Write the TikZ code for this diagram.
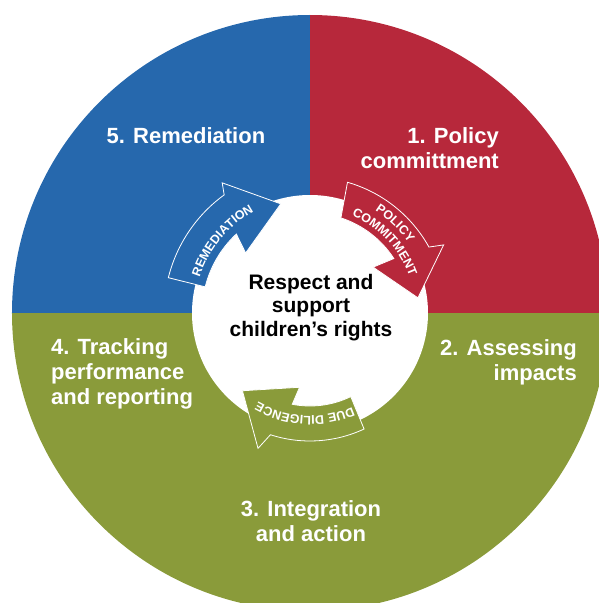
\documentclass[tikz,border=0pt]{standalone}
\usepackage{fontspec}
\setmainfont{Liberation Sans}
\definecolor{RingBlue}{RGB}{38,104,173}
\definecolor{RingRed}{RGB}{183,40,59}
\definecolor{RingGreen}{RGB}{138,155,58}
\usetikzlibrary{decorations.text}

\begin{document}
\begin{tikzpicture}[
    x=1pt, y=1pt,
    stage/.style={text=white, inner sep=0pt, font=\fontsize{22}{25}\selectfont\bfseries},
    arw/.style={fill=#1, draw=white, line width=0.8pt, line join=miter},
    arwtext/.style={decorate, decoration={text along path, text align=center, text color=white,
        text={|\fontsize{12.5}{12.5}\selectfont\bfseries|#1}}}
]
    \useasboundingbox (-310,-290) rectangle (288,313);

    % the three sectors of the ring
    \fill[RingRed]   (0,0) -- (0:298pt)   arc[start angle=0,   end angle=90,  radius=298pt] -- cycle;
    \fill[RingBlue]  (0,0) -- (90:298pt)  arc[start angle=90,  end angle=180, radius=298pt] -- cycle;
    \fill[RingGreen] (0,0) -- (180:298pt) arc[start angle=180, end angle=360, radius=298pt] -- cycle;
    \fill[white] (0,0) circle[radius=118pt];

    % curved arrows, all running clockwise
    \draw[arw=RingBlue] (166:146pt) arc[start angle=166, end angle=126, radius=146pt]
        -- (124:157pt) -- (105:113pt) -- (137:88pt) -- (133:108pt)
        arc[start angle=133, end angle=166, radius=108pt] -- cycle;
    \draw[arw=RingRed] (74:136pt) arc[start angle=74, end angle=29, radius=136pt]
        -- (27:150pt) -- (8:109pt) -- (36:78pt) -- (33:100pt)
        arc[start angle=33, end angle=72, radius=100pt] -- cycle;
    \draw[arw=RingGreen] (-65:128pt) arc[start angle=-65, end angle=-108, radius=128pt]
        -- (-111:145pt) -- (-131:103pt) -- (-98:75pt) -- (-101:93pt)
        arc[start angle=-101, end angle=-64, radius=93pt] -- cycle;

    \path[arwtext=REMEDIATION] (168:116pt) arc[start angle=168, end angle=113, radius=116pt];
    \path[arwtext=POLICY] (72:121pt) arc[start angle=72, end angle=21, radius=121pt];
    \path[arwtext=COMMITMENT] (74:106pt) arc[start angle=74, end angle=13, radius=106pt];
    \path[arwtext=DUE DILIGENCE] (-58:103pt) arc[start angle=-58, end angle=-128, radius=103pt];

    % stage labels
    \node[stage, anchor=base] (remed) at (-124,170) {5. Remediation};
    \node[stage, align=right, anchor=base east] (policy) at (189,145) {1. Policy\\committment};
    \node[stage, align=right, anchor=base east] (assess) at (267,-67) {2. Assessing\\impacts};
    \node[stage, align=center, anchor=base] (integ) at (1,-228) {3. Integration\\and action};
    \node[stage, align=left, anchor=base west] (track) at (-259,-91) {4. Tracking\\performance\\and reporting};

    \node[inner sep=0pt, align=center, anchor=base, font=\fontsize{21}{23.5}\selectfont\bfseries]
        (core) at (1,-23) {Respect and\\support\\children’s rights};
\end{tikzpicture}
\end{document}
